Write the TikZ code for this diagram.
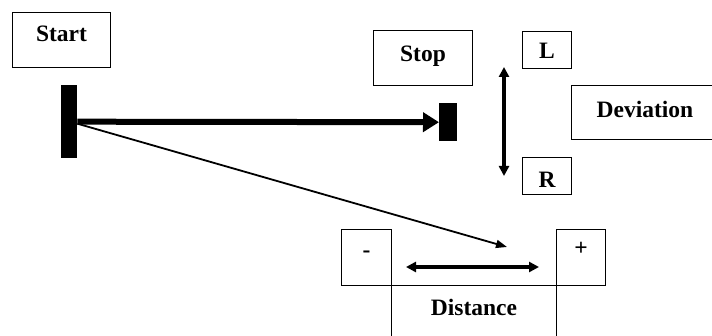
\documentclass[tikz,border=0pt]{standalone}
\usepackage{fontspec}
\setmainfont{Liberation Serif}
\usetikzlibrary{arrows.meta}
\begin{document}
\begin{tikzpicture}[x=1pt,y=-1pt,
  box/.style={draw, line width=1pt, inner sep=0pt, anchor=north west,
    font=\bfseries\fontsize{23.5}{28}\selectfont},
  bar/.style={fill=black, draw=none, inner sep=0pt, anchor=north west},
  thick arrow/.style={line width=6pt, -{Triangle[length=16pt,width=19pt]}},
  thin arrow/.style={line width=1.8pt, -{Triangle[length=11pt,width=8pt]}},
  double arrow/.style={line width=4pt, {Triangle[length=10pt,width=10pt]}-{Triangle[length=10pt,width=10pt]}}]
\clip (0,0) rectangle (712,336);
% boxes
\node[box, minimum width=98pt, text height=29pt, text depth=26pt] (start) at (12,12) {Start};
\node[box, minimum width=99pt, text height=31pt, text depth=24pt] (stop) at (373,30) {Stop};
\node[box, minimum width=49pt, text height=27pt, text depth=10pt] (L) at (522,31) {L};
\node[box, minimum width=49pt, text height=30pt, text depth=7pt] (R) at (522,157) {R};
\node[box, minimum width=147pt, text height=32pt, text depth=22pt] (dev) at (571,85) {Deviation};
\node[box, minimum width=50pt, text height=28.5pt, text depth=27.5pt] (minus) at (341,229) {-};
\node[box, minimum width=49pt, text height=26pt, text depth=30pt] (plus) at (556,229) {+};
\node[box, minimum width=165pt, text height=30pt, text depth=32pt] (dist) at (391,285) {Distance};
% bars
\node[bar, minimum width=16pt, minimum height=73pt] (sbar) at (61,85) {};
\node[bar, minimum width=18pt, minimum height=38pt] (ebar) at (439,103) {};
% connectors
\coordinate (dtip) at (507,247);
\coordinate (vtop) at (504,67);
\coordinate (vbot) at (504,176);
\coordinate (hleft) at (406,267);
\coordinate (hright) at (539,267);
\draw[thick arrow] (sbar.east) -- (ebar.west);
\draw[thin arrow] ([yshift=-2pt]sbar.east) -- (dtip);
\draw[double arrow] (vtop) -- (vbot);
\draw[double arrow, line width=4.5pt] (hleft) -- (hright);
\end{tikzpicture}
\end{document}
